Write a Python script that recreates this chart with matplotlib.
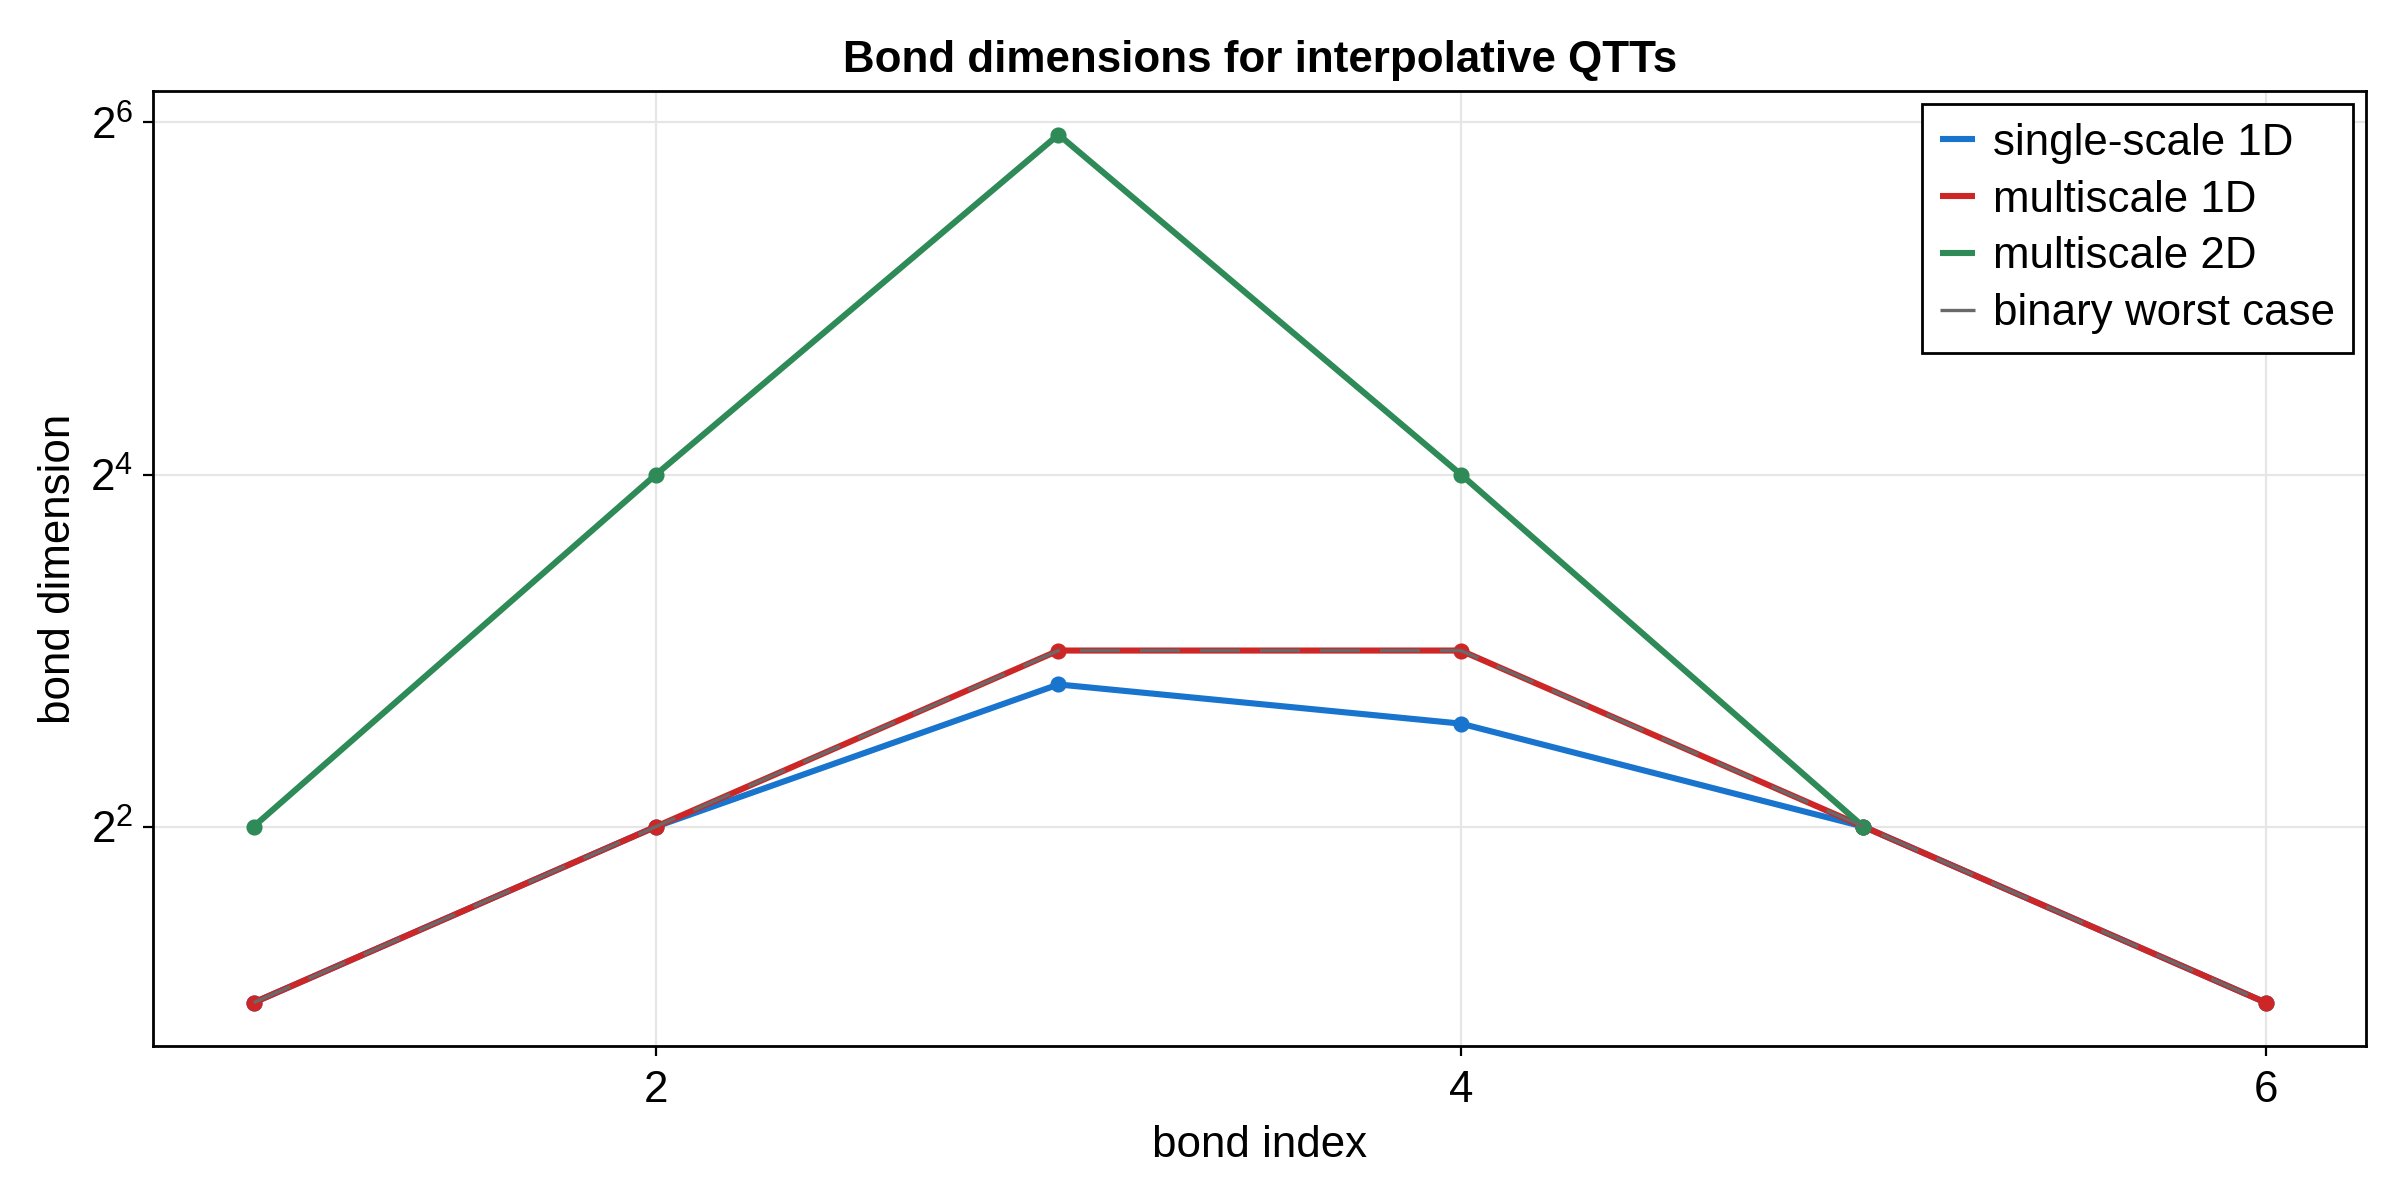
import numpy as np
import matplotlib
matplotlib.use('Agg')
import matplotlib.pyplot as plt
from matplotlib.lines import Line2D
from matplotlib.ticker import FixedLocator, FuncFormatter

# DATA
bond_index = [1, 2, 3, 4, 5, 6]
single_scale_1d = [2, 4, 7, 6, 4, 2]
multiscale_1d = [2, 4, 8, 8, 4, 2]
multiscale_2d = [4, 16, 61, 16, 4]
binary_worst = [2, 4, 8, 8, 4, 2]

x_ticks = [2, 4, 6]
y_ticks = [4, 16, 64]

series_labels = ['single-scale 1D', 'multiscale 1D', 'multiscale 2D', 'binary worst case']
series_colors = ['#1874CD', '#CD2626', '#2E8B57', '#696969']

# STYLE
plt.rcParams['font.family'] = ['Liberation Sans', 'DejaVu Sans']
plt.rcParams['mathtext.fontset'] = 'custom'
plt.rcParams['mathtext.rm'] = 'Liberation Sans'
plt.rcParams['mathtext.it'] = 'Liberation Sans:italic'
plt.rcParams['mathtext.bf'] = 'Liberation Sans:bold'
FS = 15.8

fig = plt.figure(figsize=(12, 6), dpi=200)
ax = fig.add_axes([0.06375, 0.1283, 0.986 - 0.06375, 0.924 - 0.1283])

ax.plot(bond_index, single_scale_1d, color=series_colors[0], lw=2.2, marker='o', ms=4.8)
ax.plot(bond_index, multiscale_1d, color=series_colors[1], lw=2.2, marker='o', ms=4.8)
ax.plot(bond_index[:len(multiscale_2d)], multiscale_2d, color=series_colors[2], lw=2.2,
        marker='o', ms=4.8)
ax.plot(bond_index, binary_worst, color=series_colors[3], lw=1.2, dashes=(12, 6))

ax.set_yscale('log', base=2)
lo, hi = np.log2(min(binary_worst)), np.log2(max(multiscale_2d))
m = 0.05 * (hi - lo)
ax.set_ylim(2 ** (lo - m), 2 ** (hi + m))
ax.set_xlim(0.75, 6.25)

ax.yaxis.set_major_locator(FixedLocator(y_ticks))
ax.yaxis.set_minor_locator(FixedLocator([]))
ax.yaxis.set_major_formatter(FuncFormatter(lambda v, p: r'$2^{%d}$' % round(np.log2(v))))
ax.xaxis.set_major_locator(FixedLocator(x_ticks))

ax.grid(True, color='#e6e6e6', lw=0.8)
ax.set_axisbelow(True)
for s in ax.spines.values():
    s.set_linewidth(1.0)
ax.tick_params(direction='out', length=3.6, width=0.8, labelsize=FS)
ax.tick_params(axis='x', pad=5)
ax.tick_params(axis='y', pad=3.5)

ax.set_xlabel('bond index', fontsize=FS, labelpad=5)
ax.set_ylabel('bond dimension', fontsize=FS, labelpad=4)
ax.set_title('Bond dimensions for interpolative QTTs', fontsize=FS,
             fontweight='bold', pad=7)

# legend without markers, like the original
handles = [Line2D([], [], color=c, lw=(1.2 if i == 3 else 2.2), solid_capstyle='butt')
           for i, c in enumerate(series_colors)]
leg = ax.legend(handles, series_labels, loc='upper right', fontsize=FS, frameon=True,
                fancybox=False, edgecolor='black', framealpha=1, handlelength=0.8,
                handletextpad=0.4, labelspacing=0.36, borderpad=0.42,
                borderaxespad=0.3)
leg.get_frame().set_linewidth(1.0)

fig.savefig('out.png', dpi=200)
